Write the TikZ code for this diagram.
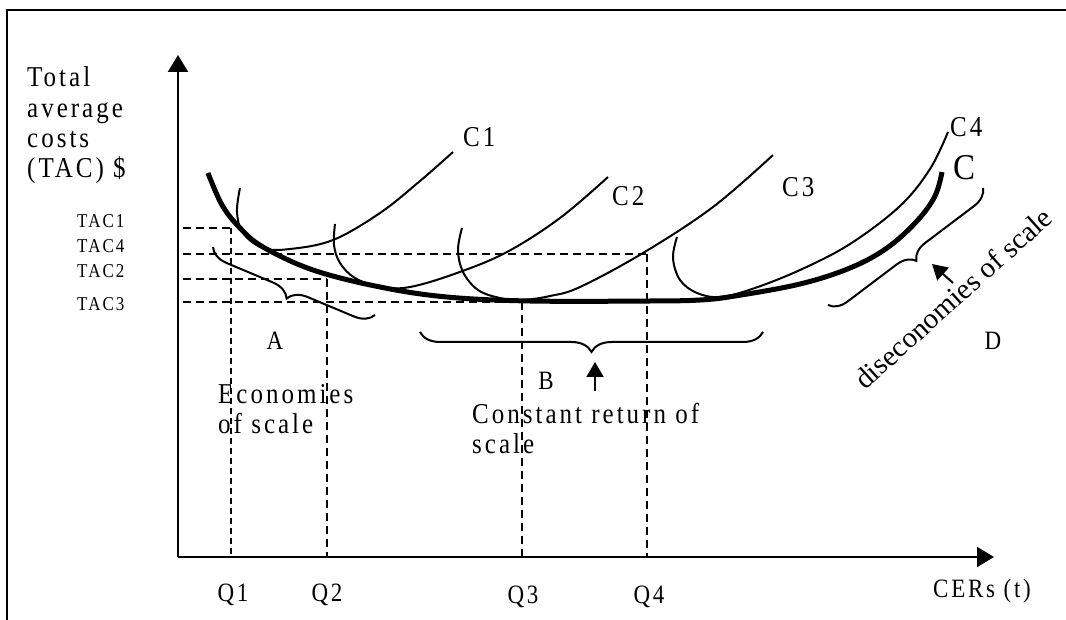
\documentclass[tikz,border=0pt]{standalone}
\usepackage{fontspec}
\setmainfont{Liberation Serif}
\newfontfamily\spc[LetterSpace=12]{Liberation Serif}
\usetikzlibrary{arrows.meta,decorations.pathreplacing}
\begin{document}
\begin{tikzpicture}[x=1pt,y=-1pt,
  thincurve/.style={line width=2pt},
  thickcurve/.style={line width=5pt},
  guide/.style={line width=1.3pt, dash pattern=on 8pt off 5pt},
  axisline/.style={line width=2pt, -{Triangle[length=17pt,width=20pt]}},
  pointer/.style={line width=2pt, -{Triangle[length=15pt,width=17pt]}},
  bracket/.style={line width=2pt, decorate, decoration={brace, mirror, amplitude=#1}},
  bracket/.default=19pt,
  lbl/.style={font=\spc\fontsize{25}{30}\selectfont, inner sep=0pt, yscale=1.15},
  smalllbl/.style={font=\spc\fontsize{17}{20}\selectfont, inner sep=0pt, yscale=1.15},
  qlbl/.style={font=\spc\fontsize{23}{28}\selectfont, inner sep=0pt, yscale=1.15},
  letter/.style={font=\fontsize{23}{28}\selectfont, inner sep=0pt, yscale=1.15},
]
\useasboundingbox (0,0) rectangle (1066,620);
% frame
\draw[line width=2pt] (7,622) -- (7,10) -- (1068,10);

% axes
\coordinate (O) at (178,557);
\coordinate (Ytip) at (178,55);
\coordinate (Xtip) at (994,557);
\draw[axisline] (O) -- (Ytip);
\draw[axisline] (O) -- (Xtip);

% y-axis label
\node[lbl, anchor=base west] (yl1) at (27,87) {Total};
\node[lbl, anchor=base west] (yl2) at (27,118) {average};
\node[lbl, anchor=base west] (yl3) at (27,148) {costs};
\node[lbl, anchor=base west] (yl4) at (27,178) {(TAC) \$};

% TAC labels
\node[smalllbl, anchor=base west] (tac1) at (77,228) {TAC1};
\node[smalllbl, anchor=base west] (tac4) at (77,253) {TAC4};
\node[smalllbl, anchor=base west] (tac2) at (77,278) {TAC2};
\node[smalllbl, anchor=base west] (tac3) at (77,311) {TAC3};

% guide points
\coordinate (h1s) at (183,228); \coordinate (p1) at (231,228); \coordinate (q1b) at (231,557);
\coordinate (h4s) at (183,254); \coordinate (p4) at (647,254); \coordinate (q4b) at (647,557);
\coordinate (h2s) at (183,279); \coordinate (p2) at (327,279); \coordinate (q2b) at (327,557);
\coordinate (h3s) at (183,302); \coordinate (p3) at (522,302); \coordinate (q3b) at (522,557);
\draw[guide] (h1s) -- (p1);
\draw[guide] (h4s) -- (p4);
\draw[guide] (h2s) -- (p2);
\draw[guide] (h3s) -- (p3);
\draw[guide, dash pattern=on 6pt off 4pt] (p1) -- (q1b);
\draw[guide] (p2) -- (q2b);
\draw[guide] (p3) -- (q3b);
\draw[guide] (p4) -- (q4b);

% Q labels
\node[qlbl, anchor=base] (Q1) at (233,601) {Q1};
\node[qlbl, anchor=base] (Q2) at (327,601) {Q2};
\node[qlbl, anchor=base] (Q3) at (523,603) {Q3};
\node[qlbl, anchor=base] (Q4) at (649,603) {Q4};
\node[qlbl, anchor=base west] (cers) at (933,597) {CERs (t)};

% short-run curves
\draw[thincurve] plot[smooth, tension=0.6] coordinates {(240,188) (237,212) (243,233) (263,248) (290,249) (333,240) (380,213) (420,181) (453,152)};
\draw[thincurve] plot[smooth, tension=0.6] coordinates {(335,224) (334,245) (340,263) (355,278) (380,287) (410,287) (457,273) (507,252) (560,218) (608,177)};
\draw[thincurve] plot[smooth, tension=0.6] coordinates {(462,228) (458,250) (463,272) (478,290) (500,298) (522,300) (550,296) (580,287) (643,253) (713,207) (773,155)};
\draw[thincurve] plot[smooth, tension=0.6] coordinates {(677,237) (673,258) (680,280) (697,293) (720,297) (752,289) (800,270) (850,244) (900,206) (930,169) (948,132)};

% long-run envelope
\draw[thickcurve] plot[smooth, tension=0.6] coordinates {(208,173) (222,205) (240,228) (263,247) (313,270) (380,287) (447,297) (530,301) (650,301) (700,300) (735,296) (800,284) (850,268) (887,248) (917,221) (935,196) (942,172)};

% curve labels
\node[lbl, anchor=base west] (c1) at (463,147) {C1};
\node[lbl, anchor=base west] (c2) at (612,206) {C2};
\node[lbl, anchor=base west] (c3) at (782,197) {C3};
\node[lbl, anchor=base west] (c4) at (950,137) {C4};
\node[font=\fontsize{33}{36}\selectfont, inner sep=0pt, anchor=base west, yscale=1.1] (cc) at (953,180) {C};

% braces
\coordinate (a1) at (213,247); \coordinate (a2) at (375,315);
\draw[bracket=19pt] (a1) -- (a2);
\coordinate (b1) at (420,332); \coordinate (b2) at (763,332);
\draw[bracket=20pt] (b1) -- (b2);
\coordinate (d1) at (828,305); \coordinate (d2) at (983,188);
\draw[bracket=18pt] (d1) -- (d2);

% pointers
\coordinate (bt) at (595,391); \coordinate (bh) at (595,362);
\draw[pointer] (bt) -- (bh);
\coordinate (dt) at (953,283); \coordinate (dh) at (932,264);
\draw[pointer] (dt) -- (dh);

% region labels
\node[letter, anchor=base] (A) at (275,350) {A};
\node[letter, anchor=base] (B) at (546,389) {B};
\node[letter, anchor=base] (D) at (993,350) {D};

\node[lbl, anchor=base west] (eco1) at (218,403) {Economies};
\node[lbl, anchor=base west] (eco2) at (218,433) {of scale};
\node[lbl, anchor=base west] (crs1) at (472,423) {Constant return of};
\node[lbl, anchor=base west] (crs2) at (472,453) {scale};
\node[font=\fontsize{29}{32}\selectfont, inner sep=0pt, anchor=base west, rotate=42] (dis) at (865,391) {diseconomies of scale};
\end{tikzpicture}
\end{document}
